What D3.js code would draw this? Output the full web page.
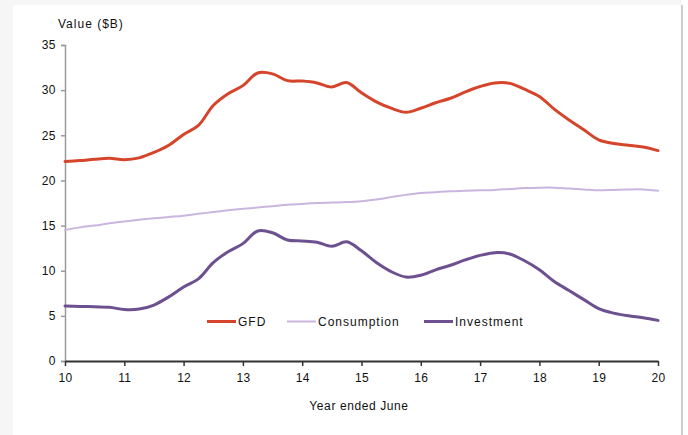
<!DOCTYPE html>
<html>
<head>
<meta charset="utf-8">
<script src="https://cdn.jsdelivr.net/npm/d3@7/dist/d3.min.js"></script>
<style>
  html, body { margin: 0; padding: 0; background: #fff; }
  svg { display: block; }
  text { font-family: "Liberation Sans", Arial, sans-serif; fill: #111; }
</style>
</head>
<body>
<svg id="chart" width="688" height="435"></svg>
<script>
// Year ended June (quarterly steps), values in $B
const years = [10, 10.25, 10.5, 10.75, 11, 11.25, 11.5, 11.75, 12, 12.25, 12.5, 12.75,
  13, 13.25, 13.5, 13.75, 14, 14.25, 14.5, 14.75, 15, 15.25, 15.5, 15.75,
  16, 16.25, 16.5, 16.75, 17, 17.25, 17.5, 17.75, 18, 18.25, 18.5, 18.75,
  19, 19.25, 19.5, 19.75, 20];

const gfd = [22.1, 22.2, 22.35, 22.45, 22.3, 22.5, 23.1, 23.9, 25.1, 26.1, 28.3, 29.6,
  30.5, 31.9, 31.8, 31.05, 31.0, 30.8, 30.35, 30.85, 29.7, 28.7, 28.0, 27.55,
  28.0, 28.6, 29.1, 29.8, 30.4, 30.8, 30.75, 30.1, 29.3, 27.9, 26.7, 25.6,
  24.5, 24.1, 23.9, 23.7, 23.3];

const consumption = [14.5, 14.8, 15.0, 15.25, 15.45, 15.65, 15.8, 15.95, 16.1, 16.3, 16.5, 16.7,
  16.85, 17.0, 17.15, 17.3, 17.4, 17.5, 17.55, 17.6, 17.7, 17.9, 18.15, 18.4,
  18.6, 18.7, 18.8, 18.85, 18.9, 18.95, 19.05, 19.15, 19.2, 19.2, 19.1, 19.0,
  18.9, 18.95, 19.0, 19.0, 18.85];

const investment = [6.1, 6.05, 6.0, 5.95, 5.7, 5.75, 6.2, 7.1, 8.2, 9.1, 10.9, 12.1,
  13.0, 14.4, 14.2, 13.4, 13.3, 13.15, 12.7, 13.2, 12.2, 10.9, 9.9, 9.3,
  9.5, 10.1, 10.6, 11.2, 11.7, 12.0, 11.85, 11.1, 10.1, 8.8, 7.8, 6.8,
  5.8, 5.3, 5.0, 4.8, 4.5];

const seriesNames = ["GFD", "Consumption", "Investment"];
const seriesColors = ["#d4452b", "#c9b6df", "#6c508f"];
const seriesWidths = [3, 2, 3];
const xTicks = [10, 11, 12, 13, 14, 15, 16, 17, 18, 19, 20];
const yTicks = [0, 5, 10, 15, 20, 25, 30, 35];

const svg = d3.select("#chart");

// frame
svg.append("rect").attr("x", 0).attr("y", 0).attr("width", 688).attr("height", 435).attr("fill", "#f6f6f6");
svg.append("rect").attr("x", 13).attr("y", 5).attr("width", 668).attr("height", 440).attr("fill", "#fff");
svg.append("rect").attr("x", 682).attr("y", 0).attr("width", 6).attr("height", 435).attr("fill", "#fff");
svg.append("line").attr("x1", 682).attr("x2", 682).attr("y1", 5).attr("y2", 435)
  .attr("stroke", "#cfcfcf").attr("stroke-width", 2);

const x = d3.scaleLinear().domain([10, 20]).range([65, 658]);
const y = d3.scaleLinear().domain([0, 35]).range([361, 45]);

// y axis
const yAxis = svg.append("g").attr("transform", "translate(65,0)")
  .call(d3.axisLeft(y).tickValues(yTicks).tickSize(4).tickPadding(5));
yAxis.select(".domain").attr("stroke", "#9a9a9a").attr("stroke-width", 1.5);
yAxis.selectAll(".tick line").attr("stroke", "#9a9a9a").attr("stroke-width", 1.5);
yAxis.selectAll(".tick text").attr("font-size", 12).attr("font-family", "Liberation Sans, Arial, sans-serif")
  .attr("fill", "#111").attr("letter-spacing", "0.5px");

// x axis
const xAxis = svg.append("g").attr("transform", "translate(0,361)")
  .call(d3.axisBottom(x).tickValues(xTicks).tickSize(5).tickPadding(7).tickSizeOuter(0));
xAxis.select(".domain").attr("stroke", "#333").attr("stroke-width", 2);
xAxis.selectAll(".tick line").attr("stroke", "#333").attr("stroke-width", 1.5);
xAxis.selectAll(".tick text").attr("font-size", 12).attr("font-family", "Liberation Sans, Arial, sans-serif")
  .attr("fill", "#111").attr("letter-spacing", "0.3px");

// titles
svg.append("text").attr("x", 58).attr("y", 28).attr("font-size", 12)
  .attr("letter-spacing", "1px").text("Value ($B)");
svg.append("text").attr("x", 359).attr("y", 410).attr("font-size", 12)
  .attr("text-anchor", "middle").attr("letter-spacing", "0.6px").text("Year ended June");

// smoothed series lines
const seriesData = [gfd, consumption, investment];
const line = d3.line()
  .x((d, i) => x(years[i]))
  .y(d => y(d))
  .curve(d3.curveCatmullRom.alpha(0.5));

// draw order: consumption, investment, gfd on top
[1, 2, 0].forEach(k => {
  svg.append("path")
    .datum(seriesData[k])
    .attr("fill", "none")
    .attr("stroke", seriesColors[k])
    .attr("stroke-width", seriesWidths[k])
    .attr("stroke-linejoin", "round")
    .attr("stroke-linecap", "round")
    .attr("d", line);
});

// legend
const legendX = [207, 287, 424];
const legend = svg.append("g");
seriesNames.forEach((name, k) => {
  legend.append("line")
    .attr("x1", legendX[k]).attr("x2", legendX[k] + 29)
    .attr("y1", 321.5).attr("y2", 321.5)
    .attr("stroke", seriesColors[k]).attr("stroke-width", seriesWidths[k]);
  legend.append("text")
    .attr("x", legendX[k] + 31).attr("y", 326)
    .attr("font-size", 12).attr("letter-spacing", "1px")
    .text(name);
});
</script>
</body>
</html>
